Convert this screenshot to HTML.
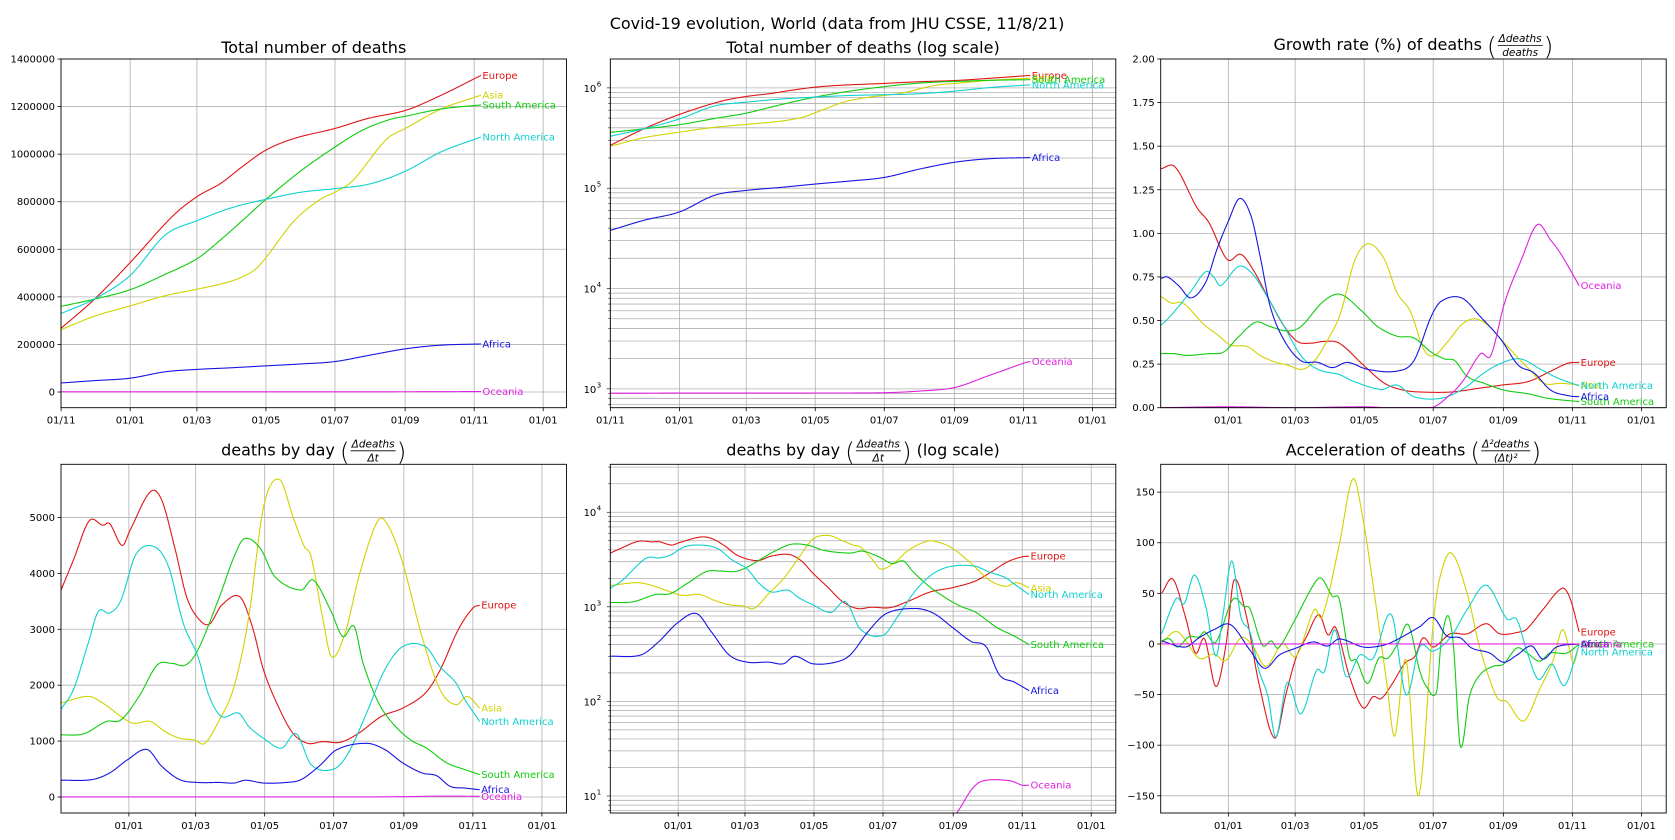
<!DOCTYPE html>
<html><head><meta charset="utf-8">
<style>
html,body{margin:0;padding:0;background:#fff;width:1675px;height:840px;overflow:hidden;}
svg{display:block;font-family:"DejaVu Sans","Liberation Sans",sans-serif;}
</style></head>
<body>
<svg id="fig" width="1675" height="840" viewBox="0 0 1675 840" xmlns="http://www.w3.org/2000/svg">
<rect width="1675" height="840" fill="#ffffff"/>
<text x="837" y="29" text-anchor="middle" font-size="16" fill="#000">Covid-19 evolution, World (data from JHU CSSE, 11/8/21)</text>
<defs id="defs"></defs>
</svg>
<script>
const regions=['Europe','Asia','South America','North America','Africa','Oceania'];
const regionColors=['#e01515','#d2d200','#10cc10','#10d0d0','#1515e0','#e020e0'];
const tickDays=[0,61,120,181,242,304,365,426];
const tickLabels=['01/11','01/01','01/03','01/05','01/07','01/09','01/11','01/01'];

// Total deaths
const totEuropeDays=[0,29,61,98,120,141,160,181,206,242,271,305,336,371];
const totEuropeVals=[268000,388000,544000,737000,821000,877000,947000,1017000,1066000,1108000,1150000,1185000,1248000,1331000];
const totAsiaDays=[0,29,61,92,120,151,170,181,206,229,242,258,287,305,336,371];
const totAsiaVals=[262000,318000,362000,405000,432000,467000,510000,565000,720000,810000,840000,890000,1060000,1110000,1190000,1248000];
const totSAmDays=[0,29,61,92,120,141,160,181,212,242,266,290,305,336,371];
const totSAmVals=[360000,390000,430000,495000,560000,640000,720000,810000,930000,1030000,1100000,1145000,1160000,1190000,1207000];
const totNAmDays=[0,29,61,92,120,151,181,212,242,273,305,336,371];
const totNAmVals=[330000,390000,490000,660000,720000,775000,810000,840000,855000,875000,930000,1010000,1072000];
const totAfrDays=[0,30,61,92,120,151,181,212,242,273,305,336,371];
const totAfrVals=[38000,48000,58000,85000,95000,102000,110000,118000,128000,155000,182000,197000,202000];
const totOceDays=[0,61,120,181,242,273,304,334,365,371];
const totOceVals=[905,907,908,909,915,950,1030,1350,1800,1880];

// Growth rate (%)
const grEuropeDays=[1,14,33,44,60,72,83,97,110,122,134,145,159,181,199,216,231,258,281,303,326,346,361,371];
const grEuropeVals=[1.37,1.38,1.15,1.06,0.85,0.88,0.79,0.62,0.47,0.38,0.37,0.38,0.37,0.24,0.14,0.10,0.09,0.09,0.11,0.13,0.15,0.21,0.255,0.26];
const grAsiaDays=[1,11,21,39,51,63,78,89,103,113,126,136,148,160,173,185,199,210,222,234,243,255,267,278,290,305,326,340,355,371];
const grAsiaVals=[0.64,0.60,0.60,0.48,0.42,0.36,0.35,0.30,0.26,0.245,0.22,0.26,0.38,0.54,0.85,0.94,0.85,0.66,0.55,0.33,0.30,0.38,0.475,0.51,0.475,0.37,0.226,0.14,0.14,0.13];
const grSAmDays=[1,13,24,43,57,69,85,98,113,125,145,160,178,193,210,225,240,252,261,272,287,305,326,343,371];
const grSAmVals=[0.31,0.31,0.30,0.31,0.32,0.40,0.49,0.465,0.44,0.465,0.61,0.65,0.56,0.465,0.41,0.40,0.32,0.28,0.27,0.18,0.14,0.10,0.08,0.054,0.035];
const grNAmDays=[1,9,27,41,48,54,70,82,95,110,125,140,159,172,196,210,225,249,269,287,302,319,337,352,371];
const grNAmVals=[0.47,0.52,0.66,0.78,0.75,0.70,0.81,0.77,0.64,0.47,0.30,0.22,0.19,0.15,0.105,0.13,0.063,0.054,0.11,0.20,0.255,0.28,0.22,0.17,0.126];
const grAfrDays=[1,7,17,28,41,51,61,71,81,89,98,110,125,140,153,166,184,210,225,240,249,267,284,302,317,331,346,363,371];
const grAfrVals=[0.74,0.75,0.70,0.63,0.72,0.91,1.07,1.20,1.10,0.87,0.58,0.39,0.27,0.26,0.23,0.26,0.22,0.21,0.27,0.52,0.61,0.63,0.52,0.39,0.245,0.20,0.10,0.067,0.063];
const grOceDays=[1,60,120,180,240,258,269,284,293,305,320,334,346,355,371];
const grOceVals=[0,0.005,0,0.005,0,0.08,0.16,0.31,0.30,0.60,0.85,1.05,0.96,0.88,0.70];

// Deaths by day
const ddEuropeDays=[1,12,26,38,44,55,62,80,90,102,112,122,132,143,159,170,180,193,206,219,232,248,264,284,303,323,336,352,365,371];
const ddEuropeVals=[3700,4240,4940,4860,4890,4500,4770,5460,5310,4420,3580,3200,3090,3430,3580,3050,2270,1620,1140,960,990,980,1140,1440,1590,1860,2270,2990,3380,3430];
const ddAsiaDays=[1,25,38,54,65,80,93,106,119,128,141,154,167,180,194,206,216,222,232,240,252,265,281,290,303,320,336,350,360,371];
const ddAsiaVals=[1680,1800,1680,1440,1320,1350,1170,1050,1020,960,1380,1980,3230,5190,5680,5010,4480,4300,3230,2510,2930,4000,4940,4860,4180,2870,1920,1650,1800,1590];
const ddSAmDays=[1,21,41,54,70,86,99,111,122,141,154,163,177,190,213,224,239,250,260,268,281,294,310,324,342,358,371];
const ddSAmVals=[1110,1130,1350,1380,1800,2360,2390,2360,2630,3580,4300,4620,4450,3940,3700,3880,3350,2870,3050,2390,1710,1320,1020,875,610,490,400];
const ddNAmDays=[1,12,25,34,44,54,67,83,96,109,122,132,143,158,167,180,196,209,222,242,255,271,287,303,323,336,350,358,371];
const ddNAmVals=[1570,1920,2750,3320,3290,3520,4330,4480,4120,3110,2510,1800,1440,1500,1260,1050,875,1130,580,500,790,1500,2270,2690,2690,2330,2040,1740,1350];
const ddAfrDays=[1,28,44,60,77,90,106,122,141,154,164,180,200,213,229,245,271,287,303,320,333,345,358,371];
const ddAfrVals=[300,310,430,670,850,550,310,260,260,250,300,250,260,310,550,850,960,850,610,430,380,190,160,130];
const ddOceDays=[1,100,200,270,290,307,321,331,354,365,371];
const ddOceVals=[1,1,1,1.5,4,6.6,12,14.5,14.5,13,13];

// Acceleration
const acEuropeDays=[2,12,23,32,40,50,59,66,77,88,102,112,121,130,141,149,156,168,180,189,196,206,217,226,233,242,257,272,289,301,319,325,339,356,363,371];
const acEuropeVals=[50,64,27,-9,5,-42,0,63,27,-39,-93,-49,-13,7,29,9,16,-32,-63,-52,-54,-39,-19,-12,6,-3,10,10,20,10,12,15,34,55,45,12];
const acAsiaDays=[2,16,35,48,59,72,82,94,109,121,137,144,159,171,180,192,201,208,218,229,242,248,258,272,283,298,307,322,336,348,356,362,366,371];
const acAsiaVals=[1,12,-14,-10,-16,6,-1,-22,0,-12,34,27,98,163,123,34,-39,-91,-16,-150,20,66,90,50,-3,-52,-57,-76,-45,-16,14,-3,-19,0];
const acSAmDays=[2,9,16,26,35,40,50,65,75,80,91,99,105,118,136,143,153,159,168,174,184,194,202,211,220,230,236,245,249,255,260,266,274,283,295,304,316,325,336,345,360,371];
const acSAmVals=[3,5,-3,7,7,12,2,44,37,35,-1,3,-4,20,58,65,47,44,-13,-16,-39,-14,-14,1,19,-26,-42,-47,1,28,-3,-101,-52,-31,-22,-20,-4,-9,-17,-9,-9,0];
const acNAmDays=[2,15,22,31,41,50,56,64,72,80,88,96,103,113,125,139,146,155,165,177,189,205,218,230,242,257,272,289,307,316,325,335,347,358,371];
const acNAmVals=[10,45,40,68,37,-12,27,82,27,12,-26,-52,-92,-38,-69,-26,-27,14,-32,-11,-14,29,-50,-3,-7,6,34,58,25,24,-8,-35,-20,-41,-1];
const acAfrDays=[2,23,35,48,63,80,93,106,121,136,149,159,180,195,206,230,242,254,266,276,292,304,316,329,339,351,371];
const acAfrVals=[3,-3,6,14,19,-6,-24,-11,-4,2,-2,5,-3,-2,2,17,26,8,6,-4,-9,-18,-11,-2,-15,-3,0];
const acOceDays=[2,371];
const acOceVals=[0,0];

const NS='http://www.w3.org/2000/svg';
const svg=document.getElementById('fig');
const defs=document.getElementById('defs');
function mk(tag,parent,attrs){const e=document.createElementNS(NS,tag);for(const k in attrs)e.setAttribute(k,attrs[k]);parent.appendChild(e);return e;}

const KX=1.1316, PW=505.5, PH=348.7;
const panelDefs=[
 {id:'total',x:61,y:59,dmin:-0.1,log:false,ymin:-66000,ymax:1400000,title:'Total number of deaths'},
 {id:'total-log',x:610.3,y:59,dmin:-0.1,log:true,ymin:2.812,ymax:6.288,title:'Total number of deaths (log scale)'},
 {id:'growth',x:1160.7,y:59,dmin:1.2,log:false,ymin:0,ymax:2,title:'Growth rate (%) of deaths',frac:['\u0394deaths','deaths'],suffix:''},
 {id:'daily',x:61,y:464.3,dmin:1.0,log:false,ymin:-286,ymax:5950,title:'deaths by day',frac:['\u0394deaths','\u0394t'],suffix:''},
 {id:'daily-log',x:610.3,y:464.3,dmin:1.0,log:true,ymin:0.82,ymax:4.507,title:'deaths by day',frac:['\u0394deaths','\u0394t'],suffix:'(log scale)'},
 {id:'accel',x:1160.7,y:464.3,dmin:1.2,log:false,ymin:-167,ymax:177.5,title:'Acceleration of deaths',frac:['\u0394\u00b2deaths','(\u0394t)\u00b2'],suffix:''}
];
const yTicks=[
 [0,200000,400000,600000,800000,1000000,1200000,1400000],
 null,
 [0,0.25,0.5,0.75,1.0,1.25,1.5,1.75,2.0],
 [0,1000,2000,3000,4000,5000],
 null,
 [-150,-100,-50,0,50,100,150]
];
const yTickFmt=[v=>String(v),null,v=>v.toFixed(2),v=>String(v),null,v=>(v<0?'\u2212'+(-v):String(v))];
const seriesSets=[
 [[totEuropeDays,totEuropeVals],[totAsiaDays,totAsiaVals],[totSAmDays,totSAmVals],[totNAmDays,totNAmVals],[totAfrDays,totAfrVals],[totOceDays,totOceVals]],
 [[totEuropeDays,totEuropeVals],[totAsiaDays,totAsiaVals],[totSAmDays,totSAmVals],[totNAmDays,totNAmVals],[totAfrDays,totAfrVals],[totOceDays,totOceVals]],
 [[grEuropeDays,grEuropeVals],[grAsiaDays,grAsiaVals],[grSAmDays,grSAmVals],[grNAmDays,grNAmVals],[grAfrDays,grAfrVals],[grOceDays,grOceVals]],
 [[ddEuropeDays,ddEuropeVals],[ddAsiaDays,ddAsiaVals],[ddSAmDays,ddSAmVals],[ddNAmDays,ddNAmVals],[ddAfrDays,ddAfrVals],[ddOceDays,ddOceVals]],
 [[ddEuropeDays,ddEuropeVals],[ddAsiaDays,ddAsiaVals],[ddSAmDays,ddSAmVals],[ddNAmDays,ddNAmVals],[ddAfrDays,ddAfrVals],[ddOceDays,ddOceVals]],
 [[acEuropeDays,acEuropeVals],[acAsiaDays,acAsiaVals],[acSAmDays,acSAmVals],[acNAmDays,acNAmVals],[acAfrDays,acAfrVals],[acOceDays,acOceVals]]
];

function interp(xs,ys,t){
 const n=xs.length;
 if(n<2)return ys[0];
 let i=0;while(i<n-2&&t>xs[i+1])i++;
 const x0=xs[i],x1=xs[i+1],h=x1-x0;
 const tan=j=>{ if(j===0)return (ys[1]-ys[0])/(xs[1]-xs[0]); if(j===n-1)return (ys[n-1]-ys[n-2])/(xs[n-1]-xs[n-2]); return (ys[j+1]-ys[j-1])/(xs[j+1]-xs[j-1]);};
 const s=(t-x0)/h, s2=s*s, s3=s2*s;
 return (2*s3-3*s2+1)*ys[i]+(s3-2*s2+s)*h*tan(i)+(-2*s3+3*s2)*ys[i+1]+(s3-s2)*h*tan(i+1);
}

panelDefs.forEach((p,pi)=>{
 const g=mk('g',svg,{});
 
 
 const xs=d=>p.x+(d-p.dmin)*KX;
 const ys=v=>{ const yv=p.log?Math.log10(Math.max(v,1e-9)):v; return p.y+PH-(yv-p.ymin)/(p.ymax-p.ymin)*PH; };
 const clip=mk('clipPath',defs,{id:'clip'+pi});
 mk('rect',clip,{x:p.x,y:p.y,width:PW,height:PH});
 const grid=mk('g',g,{stroke:'#b0b0b0','stroke-width':'0.8'});
 
 
 tickDays.forEach((d,i)=>{
  const x=xs(d); if(x<p.x-0.5||x>p.x+PW+0.5)return;
  mk('line',grid,{x1:x,x2:x,y1:p.y,y2:p.y+PH});
  mk('line',g,{x1:x,x2:x,y1:p.y+PH,y2:p.y+PH+3.5,stroke:'#000','stroke-width':'0.8'});
  const t=mk('text',g,{x:x,y:p.y+PH+16,'text-anchor':'middle','font-size':'10',fill:'#000'});
  
  
  t.textContent=tickLabels[i];
 });
 if(!p.log){
  yTicks[pi].forEach(v=>{
   const y=ys(v);
   mk('line',grid,{x1:p.x,x2:p.x+PW,y1:y,y2:y});
   mk('line',g,{x1:p.x-3.5,x2:p.x,y1:y,y2:y,stroke:'#000','stroke-width':'0.8'});
   const t=mk('text',g,{x:p.x-6,y:y+3.5,'text-anchor':'end','font-size':'10',fill:'#000'});
   
   
   t.textContent=yTickFmt[pi](v);
  });
 } else {
  for(let k=Math.floor(p.ymin);k<=Math.ceil(p.ymax);k++){
   for(let m=1;m<=9;m++){
    const lv=k+Math.log10(m); if(lv<p.ymin||lv>p.ymax)continue;
    const y=p.y+PH-(lv-p.ymin)/(p.ymax-p.ymin)*PH;
    mk('line',grid,{x1:p.x,x2:p.x+PW,y1:y,y2:y});
    mk('line',g,{x1:p.x-(m===1?3.5:2),x2:p.x,y1:y,y2:y,stroke:'#000','stroke-width':'0.6'});
    if(m===1){
     const t=mk('text',g,{x:p.x-14,y:y+4,'text-anchor':'end','font-size':'10',fill:'#000'});
     
     
     t.textContent='10';
     const sup=mk('text',g,{x:p.x-13.5,y:y-1.5,'text-anchor':'start','font-size':'7',fill:'#000'});
     
     
     sup.textContent=String(k);
    }
   }
  }
 }
 const sg=mk('g',g,{'clip-path':'url(#clip'+pi+')',fill:'none','stroke-width':'1.1'});
 
 
 seriesSets[pi].forEach((s,ri)=>{
  const [dx,dv]=s;
  const useLog=p.log;
  const vv=useLog?dv.map(v=>Math.log10(v)):dv;
  let pts=[];
  const d0=dx[0],d1=dx[dx.length-1];
  for(let t=d0;t<=d1+1e-9;t+=0.5){
   let v=interp(dx,vv,Math.min(t,d1));
   if(useLog)v=Math.pow(10,v);
   if(pi===2&&v<0)v=0;
   let py=ys(v);
   py=Math.max(p.y-3,Math.min(p.y+PH+3,py));
   pts.push(xs(t).toFixed(2)+','+py.toFixed(2));
  }
  const pl=mk('polyline',sg,{points:pts.join(' '),stroke:regionColors[ri]});
  
  
  const lastV=dv[dv.length-1];
  let ly=ys(lastV)+3.5;
  if(pi===5&&ri===3)ly+=7;
  const lab=mk('text',g,{x:xs(d1)+1.5,y:ly,'font-size':'10',fill:regionColors[ri]});
  
  
  lab.textContent=regions[ri];
 });
 const fr=mk('rect',g,{x:p.x,y:p.y,width:PW,height:PH,fill:'none',stroke:'#000','stroke-width':'0.9'});
 
 
 const tg=mk('g',g,{});
 
 
 const by=p.frac?p.y-9:p.y-6;
 const main=mk('text',tg,{x:0,y:by,'font-size':'16',fill:'#000'});
 main.textContent=p.title;
 let w=main.getComputedTextLength();
 if(p.frac){
  w+=5;
  const lp=mk('text',tg,{x:w,y:by+5,'font-size':'25',fill:'#000','font-weight':'200'});
  lp.textContent='(';
  w+=lp.getComputedTextLength()+1;
  const num=mk('text',tg,{x:0,y:by-8,'font-size':'10.5','font-style':'italic',fill:'#000','text-anchor':'middle'});
  num.textContent=p.frac[0];
  const den=mk('text',tg,{x:0,y:by+6,'font-size':'10.5','font-style':'italic',fill:'#000','text-anchor':'middle'});
  den.textContent=p.frac[1];
  const fw=Math.max(num.getComputedTextLength(),den.getComputedTextLength())+2;
  num.setAttribute('x',w+fw/2);den.setAttribute('x',w+fw/2);
  mk('line',tg,{x1:w,x2:w+fw,y1:by-4.5,y2:by-4.5,stroke:'#000','stroke-width':'0.8'});
  w+=fw+1;
  const rp=mk('text',tg,{x:w,y:by+5,'font-size':'25',fill:'#000','font-weight':'200'});
  rp.textContent=')';
  w+=rp.getComputedTextLength();
  if(p.suffix){
   w+=5;
   const sf=mk('text',tg,{x:w,y:by,'font-size':'16',fill:'#000'});
   sf.textContent=p.suffix;
   w+=sf.getComputedTextLength();
  }
 }
 tg.setAttribute('transform','translate('+(p.x+PW/2-w/2)+',0)');
});
</script>
</body></html>
